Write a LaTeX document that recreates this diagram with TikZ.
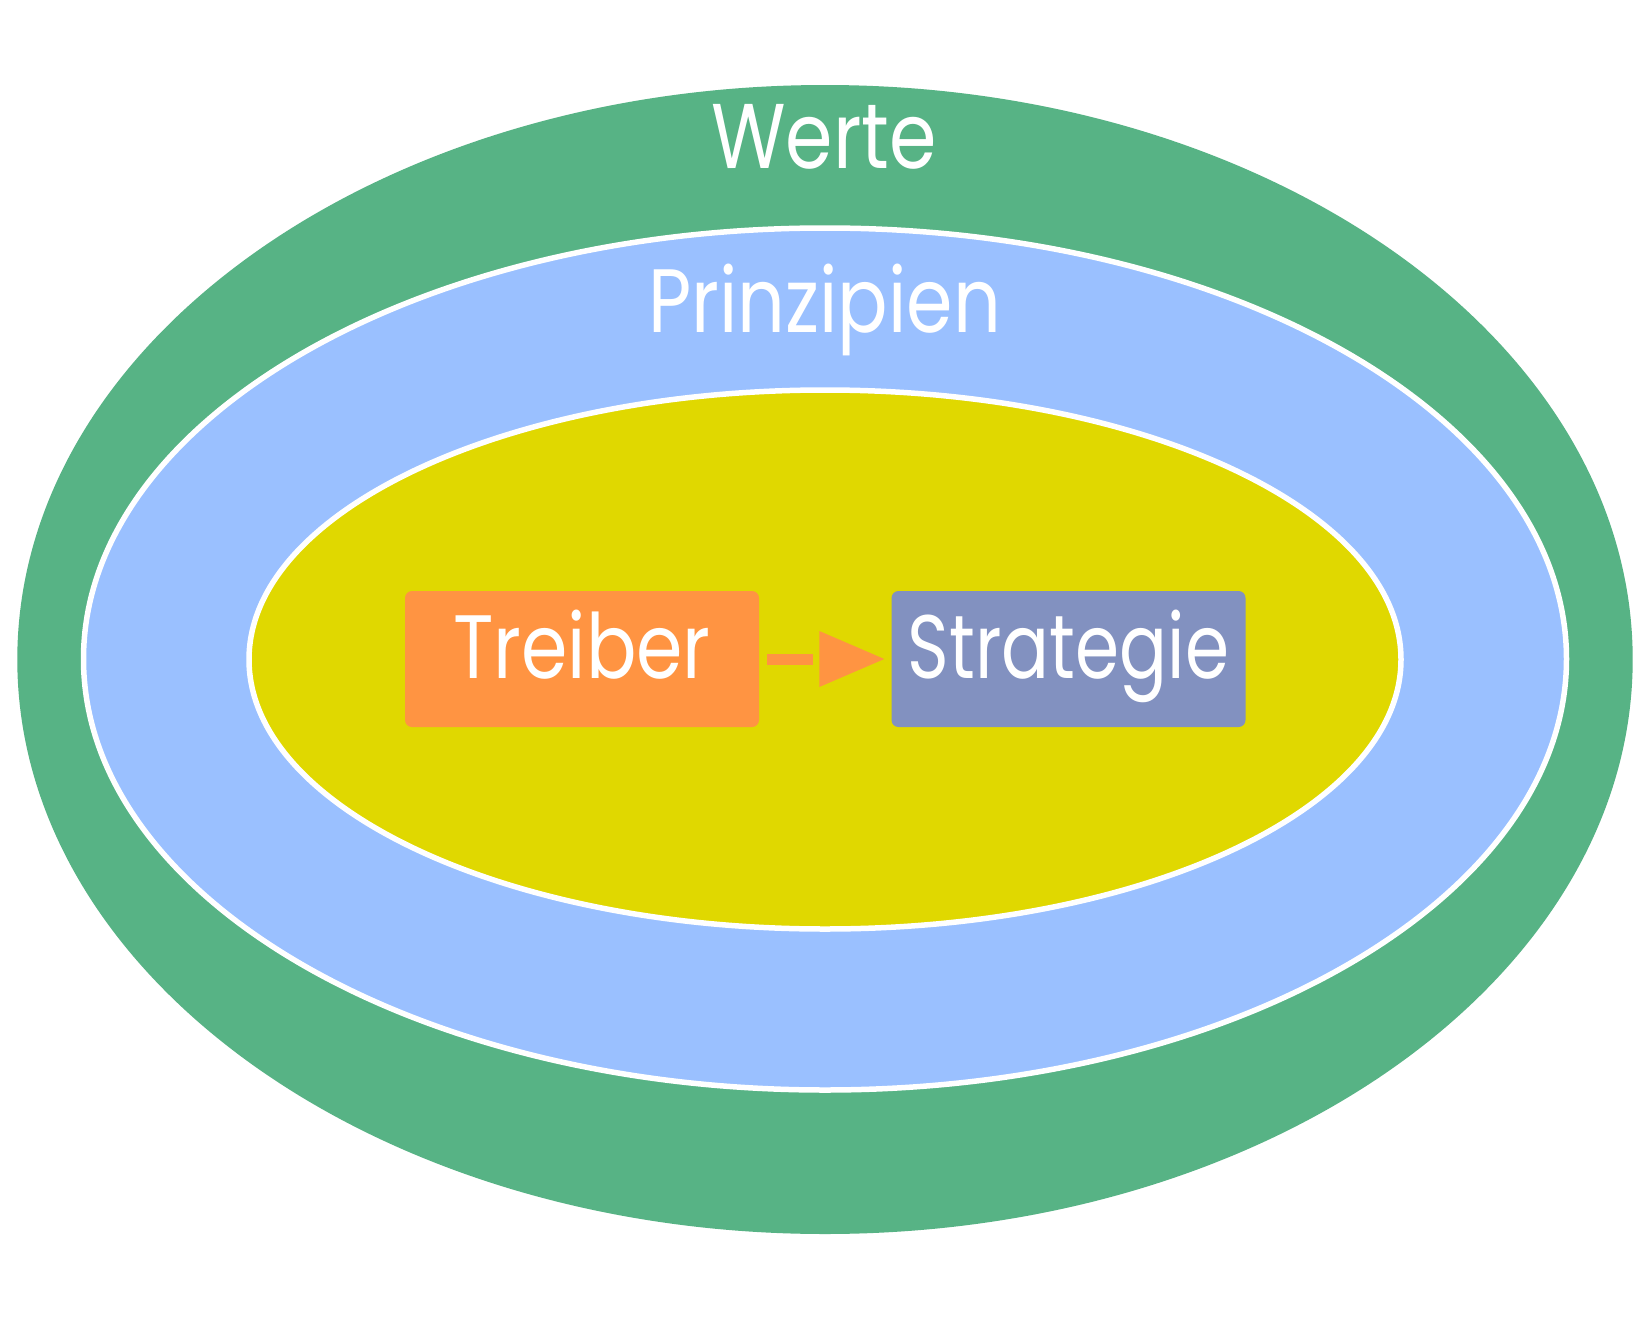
\documentclass[tikz,border=0pt]{standalone}
\usepackage{fontspec}
\usepackage{graphicx}
\setmainfont{Poppins}[FakeStretch=0.83]
\definecolor{cgreen}{RGB}{87,179,133}
\definecolor{cblue}{RGB}{154,192,255}
\definecolor{cyellow}{RGB}{224,216,0}
\definecolor{corange}{RGB}{255,148,66}
\definecolor{cpurple}{RGB}{130,145,192}
\begin{document}
\begin{tikzpicture}[x=1pt,y=-1pt,
  ring/.style={draw=white,line width=5.5pt},
  lbl/.style={text=white,font=\fontsize{90}{100}\selectfont,inner sep=0pt,anchor=base},
  boxnode/.style={rounded corners=7pt,minimum width=354pt,minimum height=136pt,inner sep=0pt,
     text height=64pt,text depth=26pt,text=white,font=\fontsize{90}{100}\selectfont}]
\useasboundingbox (0,0) rectangle (1650,1320);
\fill[white] (0,0) rectangle (1650,1320);
\fill[cgreen] (825,659.5) ellipse [x radius=807.7, y radius=574.5];
\filldraw[fill=cblue,ring] (825,659) ellipse [x radius=741.5, y radius=431];
\filldraw[fill=cyellow,ring] (825,659.5) ellipse [x radius=576, y radius=269.5];
\node[lbl,font=\fontsize{92}{100}\selectfont] (werte) at (824,168) {Werte};
\node[lbl] (prinzipien) at (824.5,332) {Prinzipien};
\node[boxnode,fill=corange] (treiber) at (582,659) {Treiber};
\node[boxnode,fill=cpurple] (strategie) at (1068.5,659) {\scalebox{0.95}[1]{Strategie}};
\draw[corange,line width=11pt,shorten <=8pt,shorten >=78pt] (treiber.east) -- (strategie.west);
\coordinate (tip) at ([xshift=-7pt]strategie.west);
\fill[corange] (tip) -- ++(-65,-28) -- ++(0,56) -- cycle;
\end{tikzpicture}
\end{document}
